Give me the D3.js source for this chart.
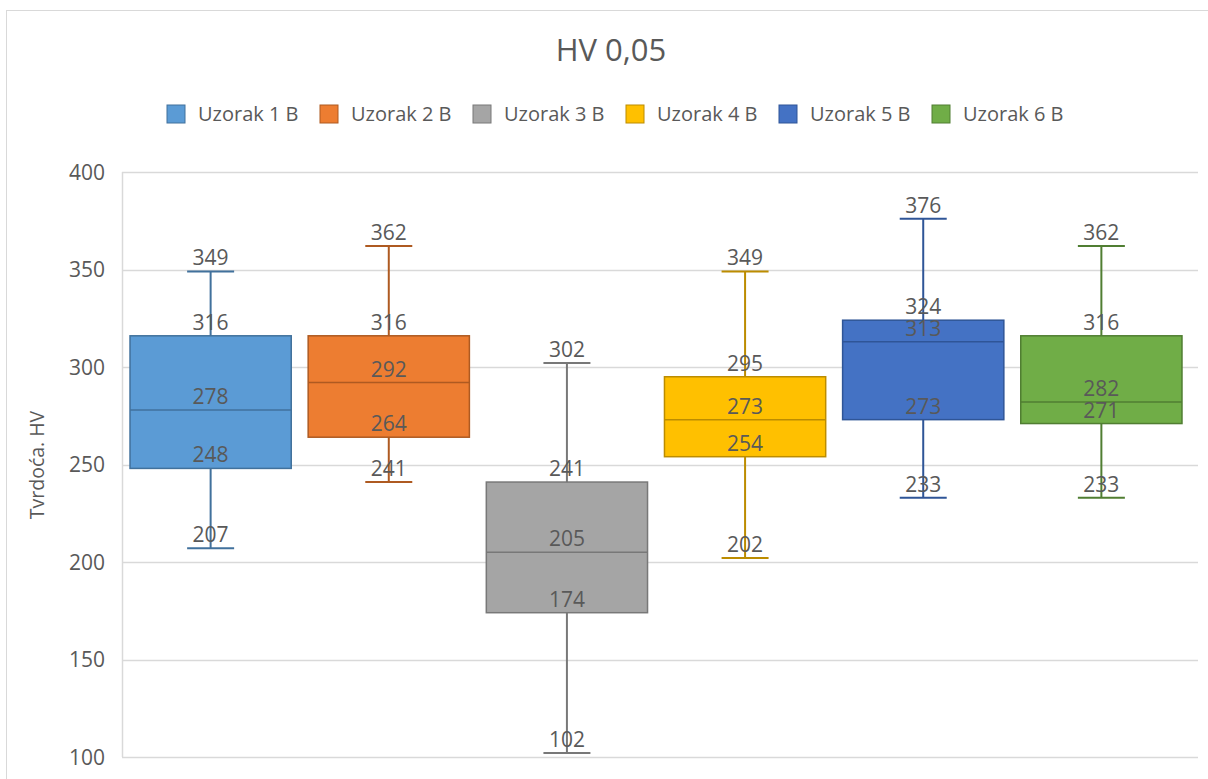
<!DOCTYPE html>
<html>
<meta charset="utf-8">
<style>
body{margin:0;background:#fff;}
text{font-family:"Open Sans",sans-serif;fill:#595959;}
</style>
<body>
<svg width="1208" height="779"></svg>
<script src="https://d3js.org/d3.v7.min.js"></script>
<script>
// data
var series = ["Uzorak 1 B", "Uzorak 2 B", "Uzorak 3 B", "Uzorak 4 B", "Uzorak 5 B", "Uzorak 6 B"];
var mins    = [207, 241, 102, 202, 233, 233];
var q1s     = [248, 264, 174, 254, 273, 271];
var medians = [278, 292, 205, 273, 313, 282];
var q3s     = [316, 316, 241, 295, 324, 316];
var maxs    = [349, 362, 302, 349, 376, 362];
var yTicks  = [100, 150, 200, 250, 300, 350, 400];

var fills   = ["#5b9bd5", "#ed7d31", "#a5a5a5", "#ffc000", "#4472c4", "#70ad47"];
var strokes = ["#41719c", "#ae5a21", "#787878", "#bc8c00", "#2f5597", "#507e32"];

var svg = d3.select("svg");

// chart border
svg.append("rect").attr("x", 6.5).attr("y", 10.5).attr("width", 1220).attr("height", 800)
    .attr("fill", "none").attr("stroke", "#d9d9d9");

var plotL = 122, plotR = 1198, plotT = 172, plotB = 757;

var y = d3.scaleLinear().domain([100, 400]).range([plotB, plotT]);
var x = d3.scaleBand().domain(series).range([plotL, 1190]).paddingInner(0.095).paddingOuter(0.045);

// gridlines
svg.append("g").selectAll("line").data(yTicks).enter().append("line")
    .attr("x1", plotL).attr("x2", plotR)
    .attr("y1", function(d) { return Math.round(y(d)) + 0.5; })
    .attr("y2", function(d) { return Math.round(y(d)) + 0.5; })
    .attr("stroke", "#d9d9d9").attr("stroke-width", 1.5);
svg.append("line").attr("x1", plotL + 0.5).attr("x2", plotL + 0.5).attr("y1", plotT).attr("y2", plotB)
    .attr("stroke", "#d9d9d9").attr("stroke-width", 1.5);

// y axis
var yAxis = svg.append("g").attr("transform", "translate(" + (plotL - 17) + ",0)")
    .call(d3.axisLeft(y).tickValues(yTicks).tickSize(0).tickPadding(0));
yAxis.select(".domain").remove();
yAxis.selectAll("text").style("font-size", "21px").attr("fill", "#595959").attr("dy", "0.35em");

svg.append("text").attr("transform", "translate(44,465) rotate(-90)")
    .attr("text-anchor", "middle").style("font-size", "19.5px").text("Tvrdoća. HV");

// title
svg.append("text").attr("x", 611).attr("y", 61).attr("text-anchor", "middle")
    .style("font-size", "31px").text("HV 0,05");

// legend
var legend = svg.append("g").attr("transform", "translate(167,114)");
var items = legend.selectAll("g").data(series).enter().append("g")
    .attr("transform", function(d, i) { return "translate(" + (i * 153) + ",0)"; });
items.append("rect").attr("width", 18).attr("height", 18).attr("y", -9)
    .attr("fill", function(d, i) { return fills[i]; })
    .attr("stroke", function(d, i) { return strokes[i]; });
items.append("text").attr("x", 31).attr("dy", "0.35em").style("font-size", "20px").text(function(d) { return d; });

// boxes
var bw = x.bandwidth(), capW = 47;
var boxes = svg.append("g").selectAll("g").data(series).enter().append("g");

boxes.append("line")
    .attr("x1", function(d) { return x(d) + bw / 2; })
    .attr("x2", function(d) { return x(d) + bw / 2; })
    .attr("y1", function(d, i) { return y(maxs[i]); })
    .attr("y2", function(d, i) { return y(mins[i]); })
    .attr("stroke", function(d, i) { return strokes[i]; }).attr("stroke-width", 2);
[maxs, mins].forEach(function(arr) {
  boxes.append("line")
      .attr("x1", function(d) { return x(d) + bw / 2 - capW / 2; })
      .attr("x2", function(d) { return x(d) + bw / 2 + capW / 2; })
      .attr("y1", function(d, i) { return y(arr[i]); })
      .attr("y2", function(d, i) { return y(arr[i]); })
      .attr("stroke", function(d, i) { return strokes[i]; }).attr("stroke-width", 2);
});
boxes.append("rect")
    .attr("x", function(d) { return x(d); })
    .attr("width", bw)
    .attr("y", function(d, i) { return y(q3s[i]); })
    .attr("height", function(d, i) { return y(q1s[i]) - y(q3s[i]); })
    .attr("fill", function(d, i) { return fills[i]; })
    .attr("stroke", function(d, i) { return strokes[i]; }).attr("stroke-width", 1.5);
boxes.append("line")
    .attr("x1", function(d) { return x(d); })
    .attr("x2", function(d) { return x(d) + bw; })
    .attr("y1", function(d, i) { return y(medians[i]); })
    .attr("y2", function(d, i) { return y(medians[i]); })
    .attr("stroke", function(d, i) { return strokes[i]; }).attr("stroke-width", 1.5);

// value labels
[mins, q1s, medians, q3s, maxs].forEach(function(arr) {
  boxes.append("text")
      .attr("x", function(d) { return x(d) + bw / 2; })
      .attr("y", function(d, i) { return y(arr[i]) - 6; })
      .attr("text-anchor", "middle").style("font-size", "21px")
      .text(function(d, i) { return arr[i]; });
});
</script>
</body>
</html>
